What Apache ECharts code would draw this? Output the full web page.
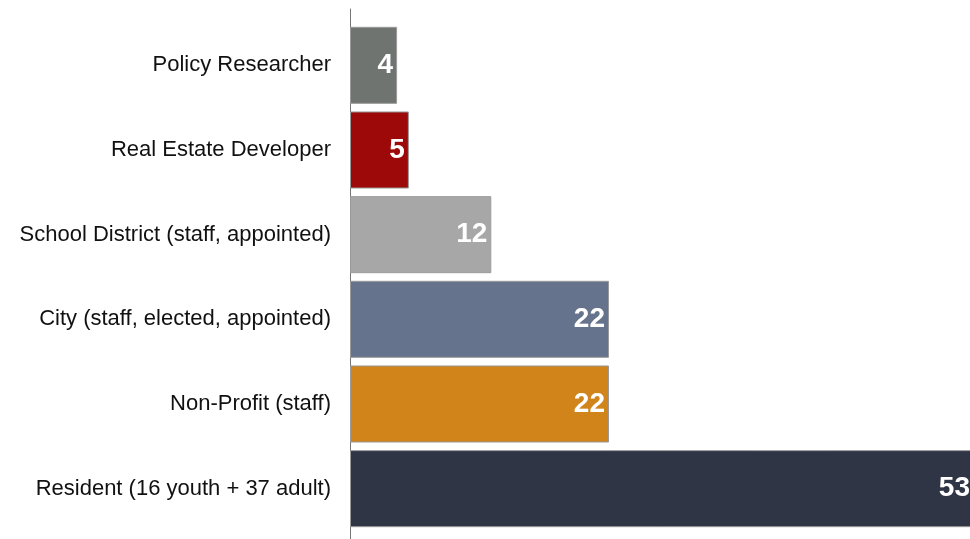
<!DOCTYPE html>
<html><head><meta charset="utf-8">
<script src="https://cdn.jsdelivr.net/npm/echarts@6/dist/echarts.min.js"></script>
<style>html,body{margin:0;padding:0;background:#fff}#c{width:970px;height:539px}</style>
</head><body><div id="c"></div>
<script>
const categories = ["Policy Researcher","Real Estate Developer","School District (staff, appointed)","City (staff, elected, appointed)","Non-Profit (staff)","Resident (16 youth + 37 adult)"];
const values = [4,5,12,22,22,53];
const colors = ["#6f7471","#9c0908","#a7a7a7","#66738c","#d0841a","#303545"];

const chart = echarts.init(document.getElementById('c'), null, {renderer:'canvas'});
chart.setOption({
  animation:false,
  backgroundColor:'#fff',
  grid:[
    {left:350, top:23, width:624, height:508, outerBoundsMode:'none'},
    {left:350, top:9, width:1, height:530, outerBoundsMode:'none'}
  ],
  xAxis:[
    {gridIndex:0, type:'value', min:0, max:53, show:false},
    {gridIndex:1, type:'value', min:0, max:1, show:false}
  ],
  yAxis:[
    {gridIndex:0, type:'category', data:categories, inverse:true,
     axisLine:{show:false}, axisTick:{show:false},
     axisLabel:{color:'#111', fontFamily:'Liberation Sans, Arial, sans-serif', fontSize:22, margin:19}},
    {gridIndex:1, type:'value', min:0, max:1,
     axisLine:{show:true, lineStyle:{color:'#777', width:1}}, axisTick:{show:false}, axisLabel:{show:false}, splitLine:{show:false}}
  ],
  series:[{
    type:'bar', xAxisIndex:0, yAxisIndex:0,
    barCategoryGap:'9%',
    data: values.map((v,i)=>({value:v, itemStyle:{color:colors[i]}})),
    itemStyle:{borderColor:'#9a9a9a', borderWidth:1},
    label:{show:true, position:'insideRight', distance:4, color:'#fff', fontWeight:'bold', fontSize:28, fontFamily:'Liberation Sans, Arial, sans-serif'}
  }]
});
</script></body></html>
